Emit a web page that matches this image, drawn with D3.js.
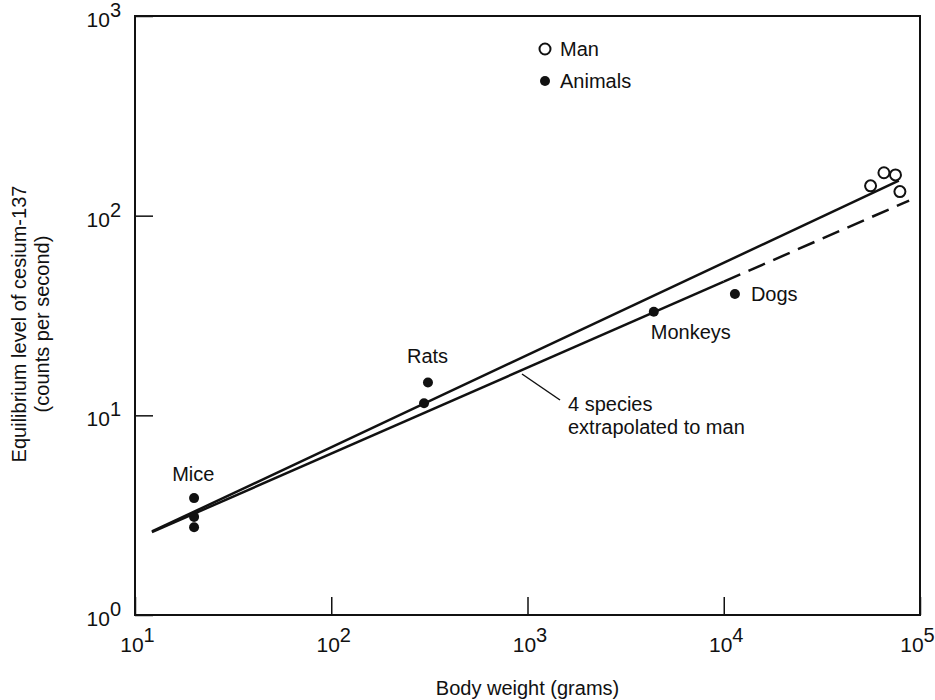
<!DOCTYPE html>
<html>
<head>
<meta charset="utf-8">
<script src="https://cdn.jsdelivr.net/npm/d3@7"></script>
<style>
  body { margin: 0; background: #fff; }
  svg text { font-family: "Liberation Sans", Arial, Helvetica, sans-serif; fill: #111; }
</style>
</head>
<body>
<div id="chart"></div>
<script>
// data (body weight in grams, counts per second)
var animalWeights = [20, 20, 20, 311, 297, 4400, 11400];
var animalLevels  = [3.85, 3.1, 2.75, 14.6, 11.5, 33, 40.5];
var manWeights = [56000, 65500, 75000, 79000];
var manLevels  = [141, 164, 160, 132];

var speciesLabels = ["Mice", "Rats", "Monkeys", "Dogs"];
var labelWeights  = [20.5, 311, 4400, 11400];
var labelLevels   = [3.85, 14.6, 33, 40.5];

// regression lines
var allFitLine   = [[12.2, 2.62], [78000, 150]];
var fourFitSolid = [[12.2, 2.6], [10000, 46.7]];
var fourFitDash  = [[10000, 46.7], [88000, 119]];

var xTicks = [10, 100, 1000, 10000, 100000];
var yTicks = [1, 10, 100, 1000];

var width = 935, height = 700;
var pLeft = 135, pRight = 920, pTop = 16, pBottom = 615;

var svg = d3.select("#chart").append("svg")
    .attr("width", width)
    .attr("height", height);

var x = d3.scaleLog().domain([10, 100000]).range([pLeft, pRight]);
var y = d3.scaleLog().domain([1, 1000]).range([pBottom, pTop]);

function supLabel(sel) {
  sel.each(function(d) {
    var t = d3.select(this);
    t.text(null);
    t.append("tspan").text("10");
    t.append("tspan")
      .attr("dy", "-0.5em")
      .attr("font-size", "20px")
      .text(Math.round(Math.log10(d)));
  });
}

// axes - ticks point inward
var xAxis = svg.append("g")
    .attr("transform", "translate(0," + pBottom + ")")
    .call(d3.axisBottom(x).tickValues(xTicks).tickSize(-18).tickPadding(14));
xAxis.select(".domain").remove();
xAxis.selectAll(".tick line").attr("stroke", "#111").attr("stroke-width", 1.5);
xAxis.selectAll(".tick text")
    .attr("font-size", "21px")
    .attr("dy", "1.1em")
    .attr("x", function(d) { return d === 100000 ? -3 : 2; })
    .call(supLabel);

var yAxis = svg.append("g")
    .attr("transform", "translate(" + pLeft + ",0)")
    .call(d3.axisLeft(y).tickValues(yTicks).tickSize(-18).tickPadding(14));
yAxis.select(".domain").remove();
yAxis.selectAll(".tick line").attr("stroke", "#111").attr("stroke-width", 1.5);
yAxis.selectAll(".tick text")
    .attr("font-size", "21px")
    .attr("dy", "0.5em")
    .call(supLabel);

// frame
svg.append("rect")
    .attr("x", pLeft).attr("y", pTop)
    .attr("width", pRight - pLeft).attr("height", pBottom - pTop)
    .attr("fill", "none")
    .attr("stroke", "#111")
    .attr("stroke-width", 2);

var line = d3.line()
    .x(function(d) { return x(d[0]); })
    .y(function(d) { return y(d[1]); });

svg.append("path").datum(allFitLine)
    .attr("d", line).attr("fill", "none")
    .attr("stroke", "#111").attr("stroke-width", 2.5);
svg.append("path").datum(fourFitSolid)
    .attr("d", line).attr("fill", "none")
    .attr("stroke", "#111").attr("stroke-width", 2.5);
svg.append("path").datum(fourFitDash)
    .attr("d", line).attr("fill", "none")
    .attr("stroke", "#111").attr("stroke-width", 2.5)
    .attr("stroke-dasharray", "18,9");

// points
svg.selectAll(".animal")
    .data(d3.range(animalWeights.length))
    .enter().append("circle")
    .attr("class", "animal")
    .attr("cx", function(i) { return x(animalWeights[i]); })
    .attr("cy", function(i) { return y(animalLevels[i]); })
    .attr("r", 5)
    .attr("fill", "#111");

svg.selectAll(".man")
    .data(d3.range(manWeights.length))
    .enter().append("circle")
    .attr("class", "man")
    .attr("cx", function(i) { return x(manWeights[i]); })
    .attr("cy", function(i) { return y(manLevels[i]); })
    .attr("r", 5.5)
    .attr("fill", "#fff")
    .attr("stroke", "#111")
    .attr("stroke-width", 2);

// species labels (offsets from their point)
var labelOffsets = [[-24, -17], [-21, -20], [-3, 27], [16, 7]];
svg.selectAll(".species")
    .data(speciesLabels)
    .enter().append("text")
    .attr("class", "species")
    .attr("x", function(d, i) { return x(labelWeights[i]) + labelOffsets[i][0]; })
    .attr("y", function(d, i) { return y(labelLevels[i]) + labelOffsets[i][1]; })
    .attr("font-size", "20px")
    .text(function(d) { return d; });

// leader for the four-species line
svg.append("line")
    .attr("x1", 522).attr("y1", 374)
    .attr("x2", 560).attr("y2", 400)
    .attr("stroke", "#111").attr("stroke-width", 1.5);
var note = svg.append("text").attr("font-size", "20px");
note.append("tspan").attr("x", 568).attr("y", 411).text("4 species");
note.append("tspan").attr("x", 568).attr("y", 434).text("extrapolated to man");

// legend
var legend = svg.append("g").attr("transform", "translate(545,49)");
legend.append("circle").attr("r", 5.5).attr("fill", "#fff")
    .attr("stroke", "#111").attr("stroke-width", 2);
legend.append("text").attr("x", 15).attr("y", 7).attr("font-size", "20px").text("Man");
legend.append("circle").attr("cy", 32).attr("r", 5).attr("fill", "#111");
legend.append("text").attr("x", 15).attr("y", 39).attr("font-size", "20px").text("Animals");

// axis titles
svg.append("text")
    .attr("x", (pLeft + pRight) / 2).attr("y", 695)
    .attr("text-anchor", "middle")
    .attr("font-size", "20px")
    .text("Body weight (grams)");

var yTitle = svg.append("text")
    .attr("transform", "translate(26,324) rotate(-90)")
    .attr("text-anchor", "middle")
    .attr("font-size", "20px");
yTitle.append("tspan").attr("x", 0).attr("y", 0).text("Equilibrium level of cesium-137");
yTitle.append("tspan").attr("x", 0).attr("y", 23).text("(counts per second)");
</script>
</body>
</html>
